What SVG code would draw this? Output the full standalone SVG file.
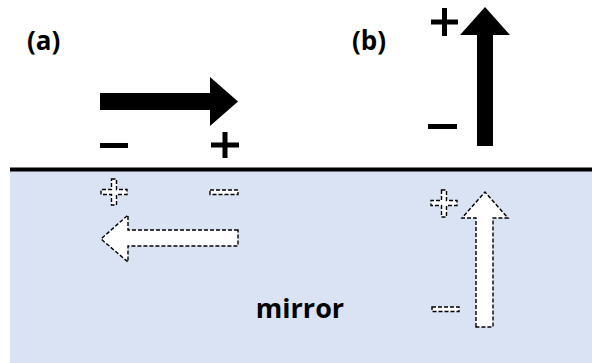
<svg xmlns="http://www.w3.org/2000/svg" width="592" height="363" viewBox="0 0 592 363">
  <style>
    .label { font-family: "Open Sans", "Liberation Sans", sans-serif; font-weight: bold; fill: #000; }
    .solid { fill: #000; stroke: none; }
    .ghost { fill: #fff; stroke: #000; stroke-width: 1.4; stroke-dasharray: 4 2; }
  </style>
  <rect width="592" height="363" fill="#fff"/>

  <!-- mirror half-space and its surface -->
  <g id="mirror">
    <rect x="10" y="170" width="582" height="193" fill="#dae3f3"/>
    <rect x="10" y="167.5" width="582" height="4" fill="#000"/>
    <text class="label" x="300" y="318" font-size="27" text-anchor="middle">mirror</text>
  </g>

  <!-- (a) horizontal dipole and its image -->
  <g id="panel-a">
    <text class="label" x="27" y="50" font-size="26">(a)</text>
    <polygon class="solid" points="100,93 210,93 210,77 238,101.5 210,126 210,110 100,110"/>
    <rect class="solid" x="100" y="143" width="28" height="5"/>
    <rect class="solid" x="211" y="142.5" width="28" height="5"/>
    <rect class="solid" x="222.5" y="132" width="5" height="26"/>
    <polygon class="ghost" points="238,230 128,230 128,215 101,239 128,262 128,246 238,246"/>
    <polygon class="ghost" points="111.5,179 116.5,179 116.5,189.5 127,189.5 127,194.5 116.5,194.5 116.5,205 111.5,205 111.5,194.5 101,194.5 101,189.5 111.5,189.5"/>
    <rect class="ghost" x="210" y="190" width="28" height="4.5"/>
  </g>

  <!-- (b) vertical dipole and its image -->
  <g id="panel-b">
    <text class="label" x="352" y="50" font-size="26">(b)</text>
    <polygon class="solid" points="477,146 477,35 460,35 485,7 510,35 493,35 493,146"/>
    <rect class="solid" x="431" y="19.5" width="27" height="5"/>
    <rect class="solid" x="442" y="8" width="5" height="28"/>
    <rect class="solid" x="428" y="124" width="29" height="5"/>
    <polygon class="ghost" points="476,327 476,218 462,218 485,192 508,218 493,218 493,327"/>
    <polygon class="ghost" points="441.5,190 446.5,190 446.5,200.5 457,200.5 457,205.5 446.5,205.5 446.5,217 441.5,217 441.5,205.5 431,205.5 431,200.5 441.5,200.5"/>
    <rect class="ghost" x="432" y="307" width="27" height="4.5"/>
  </g>
</svg>
